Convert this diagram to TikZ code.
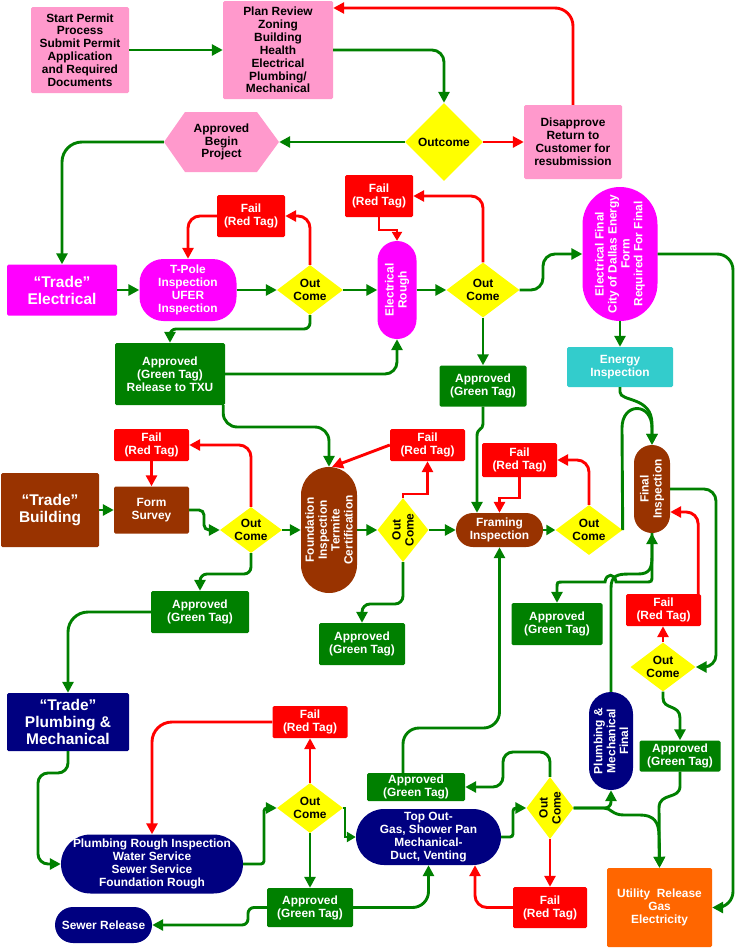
\documentclass[tikz,border=0pt]{standalone}
\usepackage{fontspec}
\setmainfont{Liberation Sans}
\usetikzlibrary{arrows.meta,shapes.geometric}
\definecolor{cpink}{HTML}{FF99CC}
\definecolor{cyel}{HTML}{FFFF00}
\definecolor{cred}{HTML}{FF0000}
\definecolor{cgreen}{HTML}{008000}
\definecolor{cmag}{HTML}{FF00FF}
\definecolor{cbrown}{HTML}{993300}
\definecolor{cnavy}{HTML}{000080}
\definecolor{cturq}{HTML}{33CCCC}
\definecolor{corange}{HTML}{FF6600}
\begin{document}
\begin{tikzpicture}[x=1pt,y=-1pt,
  every node/.style={font=\bfseries\fontsize{11.9}{12.9}\selectfont, align=center, inner sep=0pt, text=white},
  sz/.style 2 args={minimum width=#1pt, minimum height=#2pt},
  sq/.style={rectangle, rounded corners=1.5pt},
  pinkb/.style={sq, fill=cpink, text=black},
  redb/.style={sq, fill=cred},
  greenb/.style={sq, fill=cgreen},
  bigt/.style={font=\bfseries\fontsize{15.5}{17}\selectfont},
  pill/.style={rectangle, rounded corners=#1pt},
  dia/.style={diamond, fill=cyel},
  dtxt/.style={text=black},
  link/.style={line width=2.9pt, rounded corners=12pt, -{Triangle[length=11pt,width=11pt]}},
  gc/.style={link, draw=cgreen},
  rc/.style={link, draw=cred},
  sa/.style={-{Triangle[length=9pt,width=10pt]}},
]
\fill[white] (0,0) rectangle (736,948);
\useasboundingbox (0,0) rectangle (736,948);

% ---------- top ----------
\node[pinkb, sz={98}{86}] (start) at (80,50) {Start Permit\\Process\\Submit Permit\\Application\\and Required\\Documents};
\node[pinkb, sz={110}{98}] (plan) at (278,50) {Plan Review\\Zoning\\Building\\Health\\Electrical\\Plumbing/\\Mechanical};
\node[dia, sz={78}{78}] (outcome) at (444,142) {};
\node[dtxt] (outcomeT) at (outcome) {Outcome};
\node[pinkb, sz={98}{74}] (disap) at (573,142) {Disapprove\\Return to\\Customer for\\resubmission};
\fill[cpink] (164,142) -- (185,112) -- (257,112) -- (279,142) -- (257,172) -- (185,172) -- cycle;
\node[text=black, sz={115}{60}] (hex) at (221.5,142) {Approved\\Begin\\Project};

% ---------- electrical ----------
\node[redb, sz={68}{42}] (fail1) at (251,216) {Fail\\(Red Tag)};
\node[sq, fill=cmag, bigt, sz={110}{51}] (tradeE) at (62,290) {“Trade”\\Electrical};
\node[pill=24, fill=cmag, sz={97}{62}] (tpole) at (188,290) {T-Pole\\Inspection\\UFER\\Inspection};
\node[dia, sz={66}{50}] (oc1) at (310,290) {};
\node[dtxt] (oc1t) at (oc1) {Out\\Come};
\node[greenb, sz={110}{62}] (txu) at (170,374) {Approved\\(Green Tag)\\Release to TXU};
\node[pill=19.5, fill=cmag, sz={39}{98}] (erough) at (397,290) {};
\node[rotate=90] (eroughT) at (erough) {Electrical\\Rough};
\node[redb, sz={68}{42}] (fail2) at (379,196) {Fail\\(Red Tag)};
\node[dia, sz={73}{55}] (oc2) at (483,290) {};
\node[dtxt] (oc2t) at (oc2) {Out\\Come};
\node[greenb, sz={87}{41}] (app2) at (483,386) {Approved\\(Green Tag)};
\node[pill=37.5, fill=cmag, sz={75}{134}] (efinal) at (620,254) {};
\node[rotate=90] (efinalT) at (efinal) {Electrical Final\\City of Dallas Energy\\Form\\Required For Final};
\node[sq, fill=cturq, sz={106}{40}] (energy) at (620,367) {Energy\\Inspection};

% ---------- building ----------
\node[redb, sz={75}{32}] (fail3) at (151.5,445) {Fail\\(Red Tag)};
\node[sq, fill=cbrown, bigt, sz={98}{74}] (tradeB) at (50,510) {“Trade”\\Building};
\node[sq, fill=cbrown, sz={75}{47}] (form) at (151.5,510) {Form\\Survey};
\node[dia, sz={62}{46}] (oc3) at (251,530) {};
\node[dtxt] (oc3t) at (oc3) {Out\\Come};
\node[greenb, sz={98}{42}] (app3) at (200,612) {Approved\\(Green Tag)};
\node[pill=28, fill=cbrown, sz={56}{126}] (found) at (329,530) {};
\node[rotate=90] (foundT) at (found) {Foundation\\Inspection\\Termite\\Certification};
\node[redb, sz={75}{32}] (fail4) at (427.5,445) {Fail\\(Red Tag)};
\node[dia, sz={51}{64}] (oc4) at (403,530) {};
\node[dtxt, rotate=90] (oc4t) at (oc4) {Out\\Come};
\node[greenb, sz={86}{42}] (app4) at (362,644) {Approved\\(Green Tag)};
\node[pill=17, fill=cbrown, sz={87}{34}] (framing) at (499.5,530) {Framing\\Inspection};
\node[redb, sz={75}{34}] (fail5) at (519.5,460) {Fail\\(Red Tag)};
\node[dia, sz={67}{50}] (oc5) at (589,530) {};
\node[dtxt] (oc5t) at (oc5) {Out\\Come};
\node[pill=18, fill=cbrown, sz={36}{88}] (final) at (652,489) {};
\node[rotate=90] (finalT) at (final) {Final\\Inspection};
\node[greenb, sz={91}{42}] (app5) at (557,624) {Approved\\(Green Tag)};
\node[redb, sz={75}{32}] (fail6) at (663.5,610) {Fail\\(Red Tag)};
\node[dia, sz={65}{49}] (oc6) at (663,667) {};
\node[dtxt] (oc6t) at (oc6) {Out\\Come};
\node[greenb, sz={81}{31}] (app6) at (680,756) {Approved\\(Green Tag)};
\node[pill=22, fill=cnavy, sz={44}{98}] (pmfinal) at (611,741) {};
\node[rotate=90] (pmfinalT) at (pmfinal) {Plumbing \&\\Mechanical\\Final};
\node[sq, fill=corange, sz={105}{79}] (util) at (659.5,907.5) {Utility~~Release\\Gas\\Electricity};

% ---------- plumbing ----------
\node[sq, fill=cnavy, bigt, sz={122}{58}] (tradeP) at (68,722) {“Trade”\\Plumbing \&\\Mechanical};
\node[redb, sz={75}{32}] (fail7) at (310,722) {Fail\\(Red Tag)};
\node[dia, sz={66}{50}] (oc7) at (310,808) {};
\node[dtxt] (oc7t) at (oc7) {Out\\Come};
\node[pill=29.5, fill=cnavy, sz={182}{59}] (rough) at (152,864) {Plumbing Rough Inspection\\Water Service\\Sewer Service\\Foundation Rough};
\node[greenb, sz={86}{39}] (app7) at (310,907.5) {Approved\\(Green Tag)};
\node[pill=18, fill=cnavy, sz={97}{36}] (sewer) at (103.5,925) {Sewer Release};
\node[pill=28, fill=cnavy, sz={145}{56}] (topout) at (428.5,837) {Top Out-\\Gas, Shower Pan\\Mechanical-\\Duct, Venting};
\node[greenb, sz={98}{28}] (app8) at (416,787) {Approved\\(Green Tag)};
\node[dia, sz={47}{62}] (oc8) at (550,808) {};
\node[dtxt, rotate=90] (oc8t) at (oc8) {Out\\Come};
\node[redb, sz={74}{41}] (fail8) at (550,907.5) {Fail\\(Red Tag)};

% ---------- connectors: top ----------
\draw[gc] (start) -- (plan);
\draw[gc] (plan.east) -| (outcome.north);
\draw[rc] (outcome) -- (disap);
\draw[rc, rounded corners=18pt] (disap.north) |- (plan.east |- 0,8);
\draw[gc] (outcome) -- (hex);
\draw[gc, rounded corners=20pt] (hex.west) -| (tradeE.north);

% ---------- electrical ----------
\draw[gc] (tradeE) -- (tpole);
\draw[gc] (tpole) -- (oc1);
\draw[rc] (oc1.north) |- (fail1.east);
\draw[rc] (fail1.west) -| (tpole.north);
\draw[gc] (oc1) -- (erough);
\draw[gc, rounded corners=6pt] (oc1.south) |- (txu.north |- 0,329) -- (txu.north);
\draw[gc] (txu.east) -| (erough.south);
\draw[gc, rounded corners=14pt] ([xshift=-2pt]txu.south east) |- (found.north |- 0,427) -- (found.north);
\draw[gc] (erough) -- (oc2);
\draw[rc, sharp corners, sa] (fail2.south) |- (erough.north |- 0,230) -- (erough.north);
\draw[rc] (oc2.north) |- (fail2.east);
\draw[gc] (oc2) -- (app2);
\draw[gc] (oc2.east) -- (543,290) -- (543,254) -- (efinal.west);
\draw[gc] (efinal.south) -- (efinal.south |- energy.north);
\draw[gc, rounded corners=16pt] (efinal.east) -- (733,254) -- (733,907.5) -- (util.east);
\draw[gc, sharp corners] (energy.south) -- (620,392) .. controls (620,402) and (652,396) .. (652,424) -- (final.north);
\draw[gc, sharp corners] (oc5.east) -- (622,428) .. controls (622,402) and (652,402) .. (652,428) -- (final.north);

% ---------- building ----------
\draw[gc] (tradeB) -- (form);
\draw[rc] (oc3.north) |- (fail3.east);
\draw[rc] (fail3) -- (form);
\draw[gc, rounded corners=5pt] (form.east) -- (204,510) -- (204,530) -- (oc3.west);
\draw[gc] (oc3) -- (found);
\draw[gc, rounded corners=7pt] (oc3.south) |- (app3.north |- 0,574) -- (app3.north);
\draw[gc, rounded corners=20pt] (app3.west) -| (tradeP.north);
\draw[gc] (found) -- (oc4);
\draw[rc, sharp corners] (oc4.north) -- (oc4.north |- 0,494) -| (fail4.south);
\draw[rc] (fail4.west) -- ([xshift=3pt]found.north);
\draw[gc, rounded corners=8pt] (oc4.south) |- (app4.north |- 0,604) -- (app4.north);
\draw[gc] (oc4) -- (framing);
\draw[rc] (oc5.north) |- (fail5.east);
\draw[rc, sharp corners] (fail5.south) |- (framing.north |- 0,498) -- (framing.north);
\draw[gc, sharp corners] (app2.south) -- (483,424) .. controls (483,430) and (477,428) .. (477,436) -- ([xshift=-22.5pt]framing.north);
\draw[gc, sharp corners, sa] (framing) -- (oc5);
\draw[gc] (final.east) -- (716,489) -- (716,667) -- (oc6.east);
\draw[rc] ([xshift=-3pt]fail6.north east) |- ([yshift=-23pt]final.east);
\draw[rc] (oc6.north) -- (oc6.north |- fail6.south);
\draw[gc, sharp corners] (oc6.south) -- (663,698) .. controls (663,710) and (680,704) .. (680,718) -- (app6.north);
\draw[gc, sharp corners] (app6.south) -- (680,786) .. controls (680,800) and (659,792) .. (659,808) -- (util.north);
\draw[gc, sharp corners] (pmfinal.north) -- (611,588) .. controls (611,575) and (618,574) .. (630,574) -- (638,574) .. controls (650,574) and (652,568) .. (652,556) -- (final.south);
\draw[gc, sharp corners] (final.south) -- (652,575) .. controls (652,582) .. (645,582) -- (616,582) .. controls (615,573) and (606,573) .. (605,582) -- (563,582) .. controls (557,582) .. (557,588) -- (app5.north);

% ---------- plumbing ----------
\draw[gc, rounded corners=10pt] (tradeP.south) -- (68,773) -- (38,773) -- (38,864) -- (rough.west);
\draw[gc, rounded corners=3pt] (rough.east) -- (264,864) -- (264,808) -- (oc7.west);
\draw[rc] (oc7.north) -- (fail7.south);
\draw[rc, rounded corners=20pt] (fail7.west) -| (rough.north);
\draw[gc] (oc7.south) -- (app7.north);
\draw[gc, rounded corners=6pt] (app7.west) -- (248,907.5) -- (248,925) -- (sewer.east);
\draw[gc, rounded corners=16pt] (app7.east) -| (topout.south);
\draw[gc, sharp corners, sa] (oc7.east) -- (345,808) -- (345,837) -- (topout.west);
\draw[gc, rounded corners=3pt] (topout.east) -- (513,837) -- (513,808) -- (oc8.west);
\draw[gc, rounded corners=10pt] (oc8.north) -- (550,752) -- (503,752) -- (503,787) -- (app8.east);
\draw[gc, rounded corners=16pt] ([xshift=-13pt]app8.north) |- (framing.south |- 0,728) -- (framing.south);
\draw[rc] (oc8.south) -- (fail8.north);
\draw[rc] (fail8.west) -| ([xshift=46.5pt]topout.south);
\draw[gc, rounded corners=6pt] (oc8.east) -| (pmfinal.south);
\draw[gc, sharp corners] (oc8.east) -- (604,808) .. controls (611,808) and (612,815) .. (624,815) -- (640,815) .. controls (654,815) and (659,822) .. (659,836) -- (util.north);
\end{tikzpicture}
\end{document}
